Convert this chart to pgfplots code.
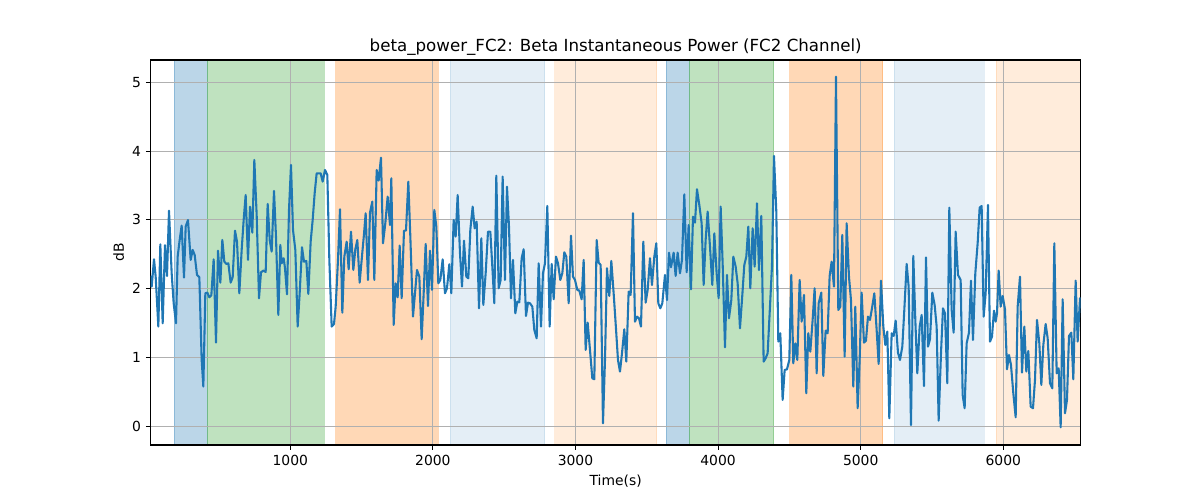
\documentclass[border=0pt]{standalone}
\usepackage{fontspec}
\setmainfont{DejaVu Sans}
\usepackage{pgfplots}
\usepackage{pgfplotstable}
\pgfplotsset{compat=1.18}
\definecolor{c0}{RGB}{31,119,180}
\definecolor{c1}{RGB}{255,127,14}
\definecolor{c2}{RGB}{44,160,44}
\definecolor{gridgray}{RGB}{176,176,176}

\pgfplotstableread{
x y
20.8 2.175
27.9 2.03
44.2 2.427
55.9 2.175
74.6 1.449
88.6 2.645
105 1.497
121.4 2.631
135.4 2.185
149.4 3.135
168.1 2.224
182.1 1.788
198.5 1.497
210.2 2.466
224.2 2.708
238.2 2.917
254.6 2.161
266.3 2.902
282.6 2.999
301.3 2.418
315.4 2.563
329.4 2.49
345.8 2.2
362.1 2.166
378.5 0.964
390.2 0.577
404.2 1.933
418.2 1.943
432.2 1.875
446.3 1.904
462.6 2.427
479 1.216
493 2.553
509.4 2.088
523.4 2.708
537.4 2.393
551.5 2.36
565.5 2.369
581.8 2.088
595.9 2.166
612.2 2.844
626.3 2.684
642.6 1.933
659 2.563
673 2.999
687 3.362
703.4 2.418
717.4 3.193
733.8 2.815
747.8 3.871
764.2 3.072
780.5 1.861
794.6 2.238
810.9 2.263
827.3 2.243
841.3 3.232
856 2.7
869.4 2.539
885.7 3.421
899.7 2.757
916.1 1.618
930.1 2.636
939.5 2.369
953.5 2.442
962.9 2.297
976.9 1.919
990.9 3.144
1004.9 3.798
1019 2.854
1035.3 2.563
1051.7 1.449
1065.7 1.933
1082.1 2.602
1096.1 2.393
1112.5 2.403
1126.5 1.923
1142.8 2.684
1156.9 2.999
1170.9 3.387
1184.9 3.677
1199 3.677
1213 3.677
1227 3.556
1243.4 3.726
1259.7 3.653
1273.8 2.418
1290.1 1.449
1306.5 1.487
1318.2 1.739
1334.5 2.418
1348.6 3.154
1364.9 1.652
1378.9 2.466
1395.3 2.684
1409.3 2.282
1425.7 2.829
1442 2.272
1456.1 2.573
1470.1 2.708
1486.5 2.088
1500.5 2.418
1516.8 2.791
1528.5 3.096
1544.9 2.127
1558.9 3.106
1575.3 3.266
1589.3 2.127
1605.7 3.726
1619.7 3.571
1636 3.905
1650.1 2.66
1666.4 2.951
1682.8 3.338
1699.2 2.926
1708.5 3.605
1724.9 1.473
1738.9 2.078
1752.9 1.875
1767 2.626
1781 1.861
1797.3 2.844
1811.4 2.844
1827.7 3.556
1841.8 2.757
1860.4 1.594
1874.5 1.933
1888.5 2.272
1904.9 2.175
1921.2 1.265
1935.3 1.933
1949.3 2.65
1965.6 1.749
1979.7 2.553
1993.7 1.982
2010.1 3.144
2024.1 2.902
2038.1 2.078
2052.1 2.127
2068.5 2.427
2084.9 1.933
2098.9 2.006
2115.2 2.355
2129.3 1.933
2145.6 2.999
2159.7 2.757
2173.7 3.362
2190 2.515
2204.1 2.03
2218.1 2.699
2234.5 2.175
2248.5 2.151
2262.5 2.854
2278.9 3.193
2292.9 2.878
2306.9 2.975
2323.3 1.715
2339.7 2.733
2353.7 1.764
2370.1 2.224
2386.4 2.829
2402.8 2.829
2416.8 2.321
2430.8 1.788
2444.8 3.643
2461.2 2.006
2475.2 2.127
2489.2 3.629
2505.6 2.127
2519.6 3.484
2533.7 2.902
2547.7 1.861
2561.7 2.418
2578.1 1.642
2592.1 1.812
2606.1 1.802
2622.5 2.442
2636.5 2.573
2652.9 1.604
2666.9 1.797
2680.9 1.788
2697.3 1.739
2711.3 1.4
2727.7 1.279
2741.7 2.369
2758.1 1.449
2772.1 2.224
2786.1 2.369
2802.5 3.203
2818.8 1.449
2832.9 2.36
2846.9 1.846
2863.2 2.466
2877.3 2.369
2893.6 2.127
2907.7 2.224
2921.7 2.529
2935.7 2.466
2952.1 1.788
2968.4 2.771
2982.5 2.175
2996.5 2.127
3012.8 1.982
3026.9 1.972
3043.2 1.846
3057.3 2.418
3071.3 1.11
3085.3 1.507
3101.7 1.11
3118 0.698
3132.1 0.683
3148.4 2.708
3162.4 2.379
3176.5 2.345
3192.8 0.044
3206.9 0.964
3220.9 2.297
3237.2 1.894
3251.3 2.403
3267.6 1.933
3281.6 1.497
3298 0.964
3312 0.795
3326.1 1.061
3342.4 1.41
3356.4 0.94
3372.8 1.957
3386.8 1.909
3403.2 3.096
3417.2 1.521
3431.3 1.594
3445.3 1.57
3459.3 1.449
3475.7 2.684
3492 1.797
3506.1 1.982
3522.4 2.442
3536.4 2.054
3552.8 2.466
3566.8 2.66
3580.9 1.788
3594.9 1.715
3608.9 1.788
3627.6 2.2
3641.6 1.836
3655.7 2.524
3669.7 2.311
3688.4 2.524
3702.4 2.185
3716.4 2.524
3732.8 2.224
3746.8 2.418
3763.2 3.372
3779.5 2.238
3793.6 2.926
3809.9 1.991
3824 3.047
3838 2.96
3852 3.445
3868.4 3.217
3884.7 2.951
3898.8 2.054
3912.8 2.708
3926.8 3.12
3943.2 2.611
3959.5 2.054
3973.6 2.805
3989.9 2.224
4004 1.861
4018 3.193
4032 2.369
4048.4 1.148
4062.4 2.2
4076.5 1.57
4092.8 1.836
4106.9 2.466
4123.2 2.321
4137.2 2.078
4153.6 1.424
4170 1.909
4184 2.345
4198 2.466
4212 2.902
4226 2.006
4242.4 2.878
4256.4 2.321
4272.8 3.241
4286.8 2.272
4303.1 3.057
4319.5 0.94
4333.5 0.988
4347.5 1.061
4363.9 1.739
4377.9 2.321
4392 3.929
4408.3 3.12
4422.4 1.231
4436.4 1.352
4452.7 0.383
4466.8 0.819
4483.1 0.828
4499.5 0.964
4513.5 2.2
4527.5 0.916
4541.6 1.206
4555.6 0.964
4572 2.127
4586 1.521
4602.3 1.909
4618.7 0.48
4632.7 1.352
4646.8 1.085
4663.1 1.546
4677.1 2.006
4691.2 0.77
4705.2 1.788
4723.9 1.943
4737.9 0.732
4754.3 1.39
4768.3 1.352
4782.3 2.185
4796.4 2.393
4812.7 2.03
4826.8 5.082
4843.1 1.691
4857.1 1.739
4871.2 2.781
4887.5 1.013
4901.5 2.951
4917.9 2.175
4931.9 1.836
4948.3 0.577
4962.3 1.739
4978.7 0.262
4992.7 0.964
5006.7 1.943
5023.1 1.216
5037.1 1.245
5051.2 1.594
5065.2 1.546
5079.3 1.715
5095.7 1.933
5112 1.4
5126 0.906
5142.4 2.117
5158.8 1.449
5172.8 1.182
5186.8 1.376
5200.8 0.116
5217.2 1.352
5231.2 1.313
5245.3 1.536
5261.6 1.071
5275.6 0.964
5292 1.158
5306 1.691
5322.4 2.36
5336.4 2.03
5352.8 0.019
5369.1 2.476
5383.2 1.546
5397.2 0.77
5413.6 1.449
5427.6 1.618
5444 0.586
5458 2.456
5472 1.158
5486 1.265
5502.4 1.943
5518.7 1.764
5532.8 1.449
5546.8 0.082
5563.2 1.061
5577.2 1.715
5591.2 1.642
5607.6 0.625
5621.6 3.178
5638 1.691
5652 1.361
5666 2.829
5682.4 2.2
5701.1 2.127
5715.1 0.455
5729.1 0.262
5743.1 1.206
5759.5 1.361
5773.5 2.117
5787.6 1.255
5803.9 2.224
5820.3 2.66
5834.3 3.178
5848.3 3.202
5862.4 1.594
5876.4 1.933
5892.7 3.217
5906.8 1.231
5920.9 1.303
5934.9 1.681
5946.6 1.521
5956 1.642
5967.6 2.263
5981.7 1.739
5995.7 1.894
6012 1.701
6026.1 0.828
6040.1 1.037
6054.1 0.891
6070.5 0.48
6086.9 0.131
6100.9 1.739
6117.2 2.175
6131.3 0.78
6147.6 1.449
6161.7 0.795
6175.7 1.095
6192 0.286
6208.4 0.262
6222.4 0.673
6236.5 1.546
6252.8 1.206
6266.9 0.601
6280.9 1.182
6297.2 1.487
6311.3 1.279
6327.6 0.625
6344 0.552
6358 2.66
6374.4 0.77
6388.4 0.843
6402.4 -0.015
6416.4 1.846
6432.8 0.189
6446.8 0.383
6460.9 1.313
6477.2 1.361
6491.2 0.683
6507.6 2.117
6521.6 1.231
6538 1.861
6543 1.85
}\datatable

\def\ylo{-0.272}
\def\yhi{5.324}

\begin{document}
\fontsize{10bp}{12bp}\selectfont
\begin{tikzpicture}
\begin{axis}[
  set layers,
  scale only axis,
  width=669.6bp, height=277.2bp,
  xmin=21, xmax=6543, ymin=-0.272, ymax=5.324,
  xtick={1000,2000,3000,4000,5000,6000},
  ytick={0,1,2,3,4,5},
  tick pos=left,
  tick align=outside,
  major tick length=3.5bp,
  tick style={black, line width=0.8bp},
  axis line style={line width=0.8bp},
  grid=major,
  grid style={gridgray, line width=0.8bp},
  /pgf/number format/assume math mode=true,
  /pgf/number format/1000 sep={},
  ticklabel style={font=\fontsize{10bp}{12bp}\selectfont},
  title={beta\_power\_FC2: Beta Instantaneous Power (FC2 Channel)},
  every axis title/.style={font=\fontsize{12bp}{14bp}\selectfont, at={(axis description cs:0.5,1)}, anchor=base, yshift=6bp},
  xlabel={Time(s)},
  xlabel style={font=\fontsize{10bp}{12bp}\selectfont, at={(axis description cs:0.5,0)}, anchor=center, yshift=-25.9bp},
  ylabel={dB},
  ylabel style={font=\fontsize{10bp}{12bp}\selectfont, at={([xshift=-23bp]axis description cs:0,0.5)}, anchor=center},
  span/.style={fill=#1, draw=#1, line width=0.72bp, on layer=axis background},
]
\addplot[span=c0, fill opacity=0.3, draw opacity=0.3] coordinates {(186.5,\ylo) (186.5,\yhi) (418,\yhi) (418,\ylo)} -- cycle;
\addplot[span=c2, fill opacity=0.3, draw opacity=0.3] coordinates {(418,\ylo) (418,\yhi) (1237,\yhi) (1237,\ylo)} -- cycle;
\addplot[span=c1, fill opacity=0.3, draw opacity=0.3] coordinates {(1320,\ylo) (1320,\yhi) (2038,\yhi) (2038,\ylo)} -- cycle;
\addplot[span=c0, fill opacity=0.12, draw opacity=0.12] coordinates {(2120,\ylo) (2120,\yhi) (2786,\yhi) (2786,\ylo)} -- cycle;
\addplot[span=c1, fill opacity=0.15, draw opacity=0.15] coordinates {(2856,\ylo) (2856,\yhi) (3569,\yhi) (3569,\ylo)} -- cycle;
\addplot[span=c0, fill opacity=0.3, draw opacity=0.3] coordinates {(3635,\ylo) (3635,\yhi) (3798,\yhi) (3798,\ylo)} -- cycle;
\addplot[span=c2, fill opacity=0.3, draw opacity=0.3] coordinates {(3798,\ylo) (3798,\yhi) (4392,\yhi) (4392,\ylo)} -- cycle;
\addplot[span=c1, fill opacity=0.3, draw opacity=0.3] coordinates {(4504,\ylo) (4504,\yhi) (5154,\yhi) (5154,\ylo)} -- cycle;
\addplot[span=c0, fill opacity=0.12, draw opacity=0.12] coordinates {(5236,\ylo) (5236,\yhi) (5865,\yhi) (5865,\ylo)} -- cycle;
\addplot[span=c1, fill opacity=0.15, draw opacity=0.15] coordinates {(5949,\ylo) (5949,\yhi) (6543,\yhi) (6543,\ylo)} -- cycle;
\addplot[c0, line width=1.5bp, line join=round, line cap=rect] table[x=x, y=y] {\datatable};
\end{axis}
\pgfresetboundingbox
\path ([xshift=-108.5bp,yshift=-39.6bp]current axis.south west) rectangle ([xshift=85.9bp,yshift=43.2bp]current axis.north east);
\end{tikzpicture}
\end{document}
